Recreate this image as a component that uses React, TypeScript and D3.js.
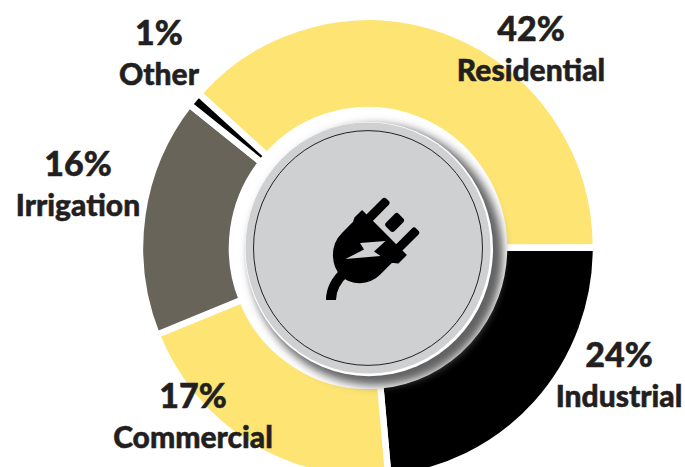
import { useEffect, useRef } from "react";
import * as d3 from "d3";

// labels printed on the chart
const categories = ["Residential", "Industrial", "Commercial", "Irrigation", "Other"];
const percentLabels = ["42%", "24%", "17%", "16%", "1%"];
// slice sizes as drawn in the picture (they don't follow the printed numbers exactly)
const sliceSizes = [38.3, 23.6, 20.3, 16.8, 1];
const sliceColors = ["#fde473", "#000000", "#fde473", "#68645a", "#000000"];

// where each label block is centred
const labelX = [531, 619, 193, 78, 159];
const labelY = [58, 384, 425, 193, 62];

const width = 685;
const height = 467;
const cx = 368;
const cy = 248;

export default function App() {
  const ref = useRef<SVGSVGElement>(null);

  useEffect(() => {
    if (!ref.current) return;
    const svg = d3.select(ref.current);
    svg.selectAll("*").remove();

    const defs = svg.append("defs");
    const blur = defs.append("filter").attr("id", "soft")
      .attr("x", "-30%").attr("y", "-30%").attr("width", "160%").attr("height", "160%");
    blur.append("feGaussianBlur").attr("stdDeviation", 4.5);

    const ring = svg.append("g").attr("transform", `translate(${cx},${cy}) scale(1,1.013)`);

    // residential starts at the upper left and runs clockwise to 3 o'clock
    const start = (-48 * Math.PI) / 180;
    const pie = d3.pie<number>()
      .sort(null)
      .startAngle(start)
      .endAngle(start + 2 * Math.PI);
    const arc = d3.arc<d3.PieArcDatum<number>>().innerRadius(136).outerRadius(228);

    ring.selectAll("path.slice")
      .data(pie(sliceSizes))
      .enter()
      .append("path")
      .attr("class", "slice")
      .attr("d", arc)
      .attr("fill", (_, i) => sliceColors[i])
      .attr("stroke", "#ffffff")
      .attr("stroke-width", 6.5);

    const disc = svg.append("g").attr("transform", `translate(${cx},${cy}) scale(1,1.025)`);

    // shadow under the disc, falls to lower right
    disc.append("circle")
      .attr("cx", 8).attr("cy", 7).attr("r", 127)
      .attr("fill", "#626262")
      .attr("filter", "url(#soft)");
    disc.append("circle")
      .attr("r", 124)
      .attr("cx", 1).attr("cy", 1)
      .attr("fill", "#ffffff");
    disc.append("circle").attr("r", 122.5).attr("fill", "#cfd0d2");
    disc.append("circle")
      .attr("r", 114.5)
      .attr("fill", "none")
      .attr("stroke", "#111111")
      .attr("stroke-width", 0.9);

    // plug icon
    const plug = svg.append("g").attr("transform", `translate(${cx},${cy})`);
    plug.append("path")
      .attr("d", "M-37,52 C-37,40 -31,31 -22,23")
      .attr("fill", "none")
      .attr("stroke", "#000")
      .attr("stroke-width", 10);
    const head = plug.append("g").attr("transform", "translate(16,-15) rotate(45)");
    head.append("path")
      .attr("d", "M-31,0 L31,0 L31,11 L26,15 L26,32 C26,48 13,60 0,60 C-13,60 -29,48 -29,30 L-29,14 L-31,10 Z")
      .attr("fill", "#000")
      .attr("stroke", "#000")
      .attr("stroke-width", 1.5)
      .attr("stroke-linejoin", "round");
    head.selectAll("rect.prong")
      .data([-21, 21])
      .enter()
      .append("rect")
      .attr("class", "prong")
      .attr("x", (d) => d - 4.5)
      .attr("y", -26)
      .attr("width", 9)
      .attr("height", 28)
      .attr("rx", 3)
      .attr("fill", "#000");
    head.append("rect")
      .attr("x", -6).attr("y", -24).attr("width", 12).attr("height", 18).attr("rx", 3)
      .attr("fill", "#000");
    plug.append("path")
      .attr("d", "M-8,-5 L17.5,-7 L6,3.5 L12.5,8 L-22.5,11 L-4,1.5 Z")
      .attr("fill", "#cfd0d2");

    // labels
    const labels = svg.append("g")
      .attr("font-family", "Lato, sans-serif")
      .attr("font-weight", 900)
      .attr("fill", "#231f20")
      .attr("stroke", "#231f20")
      .attr("stroke-width", 0.5)
      .attr("text-anchor", "middle");
    categories.forEach((name, i) => {
      labels.append("text").attr("x", labelX[i]).attr("y", labelY[i] - 17).attr("font-size", 34).text(percentLabels[i]);
      labels.append("text").attr("x", labelX[i]).attr("y", labelY[i] + 23).attr("font-size", 30).text(name);
    });
  }, []);

  return (
    <svg
      ref={ref}
      width={width}
      height={height}
      style={{ position: "absolute", left: 0, top: 0, background: "#fff" }}
    />
  );
}
